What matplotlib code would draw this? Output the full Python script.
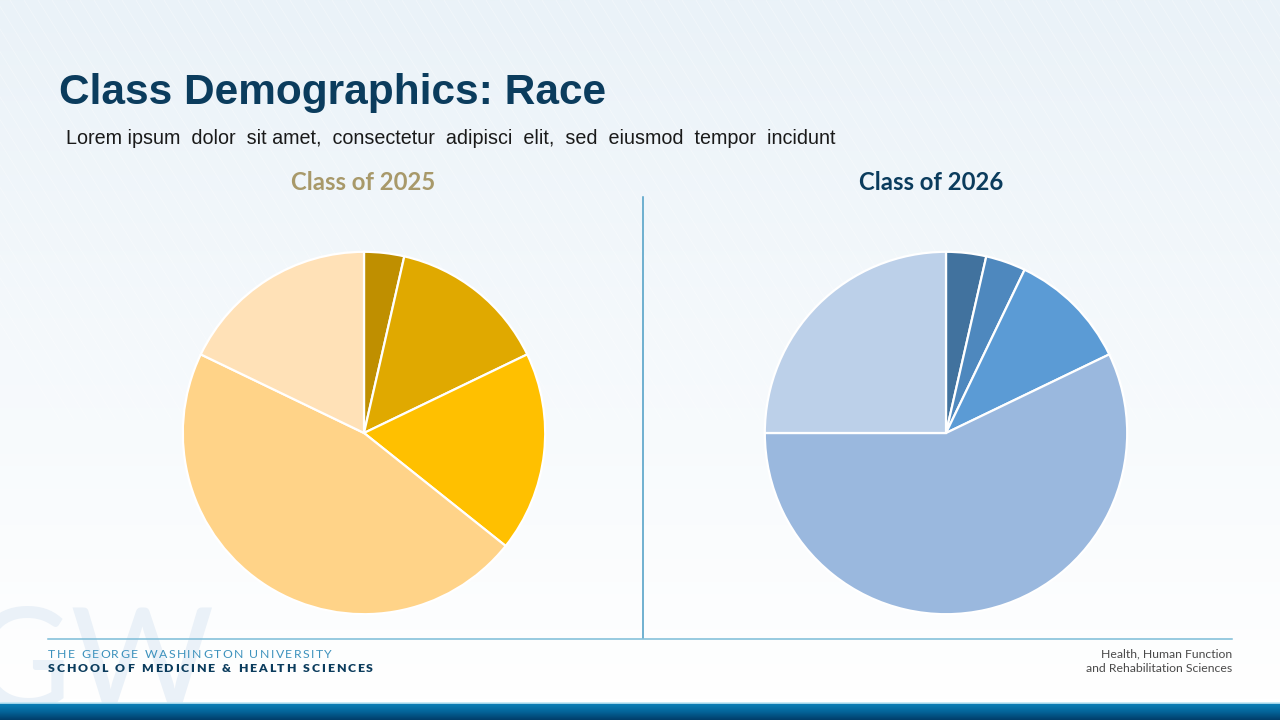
import numpy as np
import matplotlib
matplotlib.use("Agg")
import matplotlib.pyplot as plt
from matplotlib.colors import LinearSegmentedColormap

# slide text
title = "Class Demographics: Race"
subtitle = "Lorem ipsum  dolor  sit amet,  consectetur  adipisci  elit,  sed  eiusmod  tempor  incidunt"
pie_titles = ["Class of 2025", "Class of 2026"]
footer_left = ["THE GEORGE WASHINGTON UNIVERSITY", "SCHOOL OF MEDICINE & HEALTH SCIENCES"]
footer_right = ["Health, Human Function", "and Rehabilitation Sciences"]

# pie values (share of class, clockwise from 12 o'clock)
class_2025 = [1, 4, 5, 13, 5]
class_2026 = [1, 1, 3, 16, 7]

colors_2025 = ["#BF8F00", "#E0A900", "#FFC000", "#FFD388", "#FFE1B7"]
colors_2026 = ["#41729E", "#4E88BE", "#5B9BD5", "#9AB8DE", "#BCD0E9"]

W, H = 1280, 720
fig = plt.figure(figsize=(12.8, 7.2), dpi=100)
renderer = fig.canvas.get_renderer()

# background axes in pixel coords
bg = fig.add_axes([0, 0, 1, 1])
bg.set_xlim(0, W)
bg.set_ylim(H, 0)
bg.axis("off")

grad = LinearSegmentedColormap.from_list("bg", ["#EAF2F8", "#F5F9FC", "#FFFFFF"])
g = np.linspace(0, 1, 256).reshape(-1, 1)
bg.imshow(g, cmap=grad, extent=[0, W, 700, 0], aspect="auto", zorder=0)

# faint diagonal streaks in the background
for x0 in np.arange(-200, W + 200, 14):
    bg.plot([x0, x0 + 260], [0, 420], color="white", lw=0.6, alpha=0.35, zorder=0.5)

# GW watermark
bg.text(-30, 708, "GW", fontsize=100, fontfamily="Lato",
        color="#EAF1F8", ha="left", va="baseline", zorder=0.6)

# bottom bar
bar = LinearSegmentedColormap.from_list("bar", ["#0C82BA", "#04659A", "#013D69"])
bg.imshow(g, cmap=bar, extent=[0, W, 720, 703], aspect="auto", zorder=2)
bg.plot([0, W], [702.5, 702.5], color="#BFE6F4", lw=1.2, zorder=2)

# title and subtitle
bg.text(59, 93, title, fontsize=30.5, fontweight="bold", fontfamily="Liberation Sans",
        color="#0B3C5D", ha="left", va="center", zorder=3)
bg.text(66, 138, subtitle, fontsize=14.2, fontfamily="Liberation Sans",
        color="#1A1A1A", ha="left", va="center", zorder=3)

# pie headers
bg.text(363, 182, pie_titles[0], fontsize=17.2, fontweight="bold", fontfamily="Lato",
        color="#A8996A", ha="center", va="center", zorder=3)
bg.text(931, 182, pie_titles[1], fontsize=17.2, fontweight="bold", fontfamily="Lato",
        color="#0B3C5D", ha="center", va="center", zorder=3)

# divider and footer rule
bg.plot([642.5, 642.5], [197, 638], color="#4A9CC4", lw=1.1, zorder=3)
bg.plot([48, 1232], [638.5, 638.5], color="#7DBCD8", lw=1.1, zorder=3)


def tracked_text(x, y, s, width, **kw):
    # lay letters out one by one so the line spans the given width
    parts = []
    for ch in s:
        t = bg.text(0, y, ch, ha="left", va="center", zorder=3, **kw)
        w = t.get_window_extent(renderer).width if ch != " " else None
        parts.append((t, w))
    space_w = np.mean([w for _, w in parts if w]) * 0.45
    widths = [w if w else space_w for _, w in parts]
    gap = (width - sum(widths)) / (len(s) - 1)
    pos = x
    for (t, _), w in zip(parts, widths):
        t.set_x(pos)
        pos += w + gap


tracked_text(48, 654, footer_left[0], 284, fontsize=8.8, fontfamily="Lato", color="#3D92BD")
tracked_text(48, 668, footer_left[1], 325, fontsize=8.8, fontfamily="Lato",
             fontweight="heavy", color="#0B3C5D")
bg.text(1232, 654, footer_right[0], fontsize=8.8, fontfamily="Lato",
        color="#4A4A4A", ha="right", va="center", zorder=3)
bg.text(1232, 668, footer_right[1], fontsize=8.8, fontfamily="Lato",
        color="#4A4A4A", ha="right", va="center", zorder=3)


def add_pie(cx, cy, r, values, colors):
    ax = fig.add_axes([(cx - r) / W, (H - cy - r) / H, 2 * r / W, 2 * r / H])
    ax.pie(values, colors=colors, startangle=90, counterclock=False, radius=1,
           wedgeprops=dict(edgecolor="white", linewidth=1.6))
    ax.set_xlim(-1.01, 1.01)
    ax.set_ylim(-1.01, 1.01)
    ax.set_aspect("equal")
    ax.axis("off")
    return ax


add_pie(364, 433, 183, class_2025, colors_2025)
add_pie(946, 433, 183, class_2026, colors_2026)

fig.savefig("out.png", dpi=100)
